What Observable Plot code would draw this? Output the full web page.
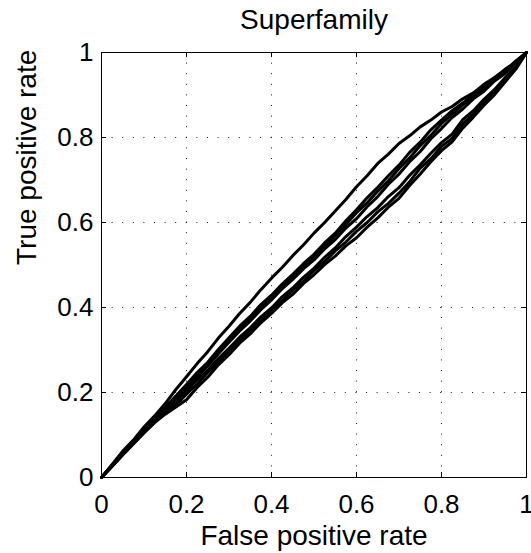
<!DOCTYPE html>
<html><head><meta charset="utf-8">
<script src="https://cdn.jsdelivr.net/npm/d3@7"></script>
<script src="https://cdn.jsdelivr.net/npm/@observablehq/plot@0.6"></script>
<style>body{margin:0;background:#fff}</style>
</head><body><div id="chart"></div>
<script>
const titleText = "Superfamily";
const xLabel = "False positive rate";
const yLabel = "True positive rate";
const ticks = [0, 0.2, 0.4, 0.6, 0.8, 1];
const gridTicks = [0.2, 0.4, 0.6, 0.8];

const fpr = [0, .025, .05, .075, .1, .125, .15, .175, .2, .225, .25, .275, .3, .325, .35, .375, .4, .425, .45, .475, .5, .525, .55, .575, .6, .625, .65, .675, .7, .725, .75, .775, .8, .825, .85, .875, .9, .925, .95, .975, 1];
const tprA = [0, .031, .062, .088, .119, .145, .174, .207, .237, .268, .296, .328, .356, .386, .412, .442, .469, .494, .522, .547, .575, .6, .627, .654, .684, .71, .739, .761, .786, .804, .825, .841, .86, .873, .891, .905, .925, .941, .961, .977, 1];
const tprB = [0, .029, .058, .087, .114, .141, .165, .192, .219, .247, .271, .301, .329, .356, .379, .407, .429, .455, .478, .503, .525, .552, .575, .604, .63, .658, .683, .71, .735, .765, .789, .818, .841, .863, .881, .901, .919, .941, .958, .98, 1];
const tprC = [0, .028, .057, .085, .112, .139, .162, .186, .216, .24, .269, .295, .326, .348, .375, .399, .426, .448, .474, .496, .521, .544, .57, .595, .623, .646, .674, .698, .727, .752, .781, .805, .833, .855, .877, .896, .917, .935, .957, .977, 1];
const tprD = [0, .028, .056, .083, .11, .137, .16, .185, .209, .238, .262, .291, .318, .345, .368, .395, .418, .444, .466, .491, .512, .538, .56, .587, .609, .637, .661, .69, .714, .743, .767, .797, .821, .847, .867, .891, .909, .933, .951, .977, 1];
const tprE = [0, .027, .055, .082, .108, .134, .155, .176, .203, .23, .252, .28, .304, .33, .352, .378, .399, .425, .446, .471, .492, .518, .54, .567, .589, .614, .635, .661, .682, .711, .736, .763, .788, .808, .842, .863, .89, .913, .941, .967, 1];
const tprF = [0, .027, .054, .08, .106, .131, .152, .171, .196, .22, .247, .271, .299, .321, .347, .369, .395, .416, .441, .461, .487, .508, .533, .554, .579, .6, .625, .645, .669, .696, .728, .75, .779, .798, .832, .855, .882, .906, .936, .964, 1];
const tprG = [0, .026, .053, .079, .105, .129, .149, .166, .183, .212, .236, .265, .289, .316, .338, .364, .386, .411, .431, .456, .477, .501, .521, .545, .564, .589, .611, .636, .657, .687, .714, .743, .769, .79, .822, .848, .876, .901, .931, .961, 1];

const curves = [["A", tprA], ["B", tprB], ["C", tprC], ["D", tprD], ["E", tprE], ["F", tprF], ["G", tprG]];
const rows = curves.flatMap(([name, tpr]) => fpr.map((x, i) => ({curve: name, x, y: tpr[i]})));

const font = "'Liberation Sans', Arial, Helvetica, sans-serif";
const chart = Plot.plot({
  width: 531, height: 553,
  marginLeft: 101, marginRight: 5, marginTop: 52, marginBottom: 76,
  style: {fontFamily: font, background: "#fff", color: "#000"},
  x: {domain: [0, 1]},
  y: {domain: [0, 1]},
  marks: [
    Plot.gridX(gridTicks, {stroke: "#000", strokeOpacity: 0.9, strokeDasharray: "1,9.6", strokeWidth: 1}),
    Plot.gridY(gridTicks, {stroke: "#000", strokeOpacity: 0.9, strokeDasharray: "1,9.6", strokeWidth: 1}),
    Plot.ruleX(ticks, {x: d => d, insetTop: 420, stroke: "#000"}),
    Plot.ruleX(ticks, {x: d => d, insetBottom: 420, stroke: "#000"}),
    Plot.ruleY(ticks, {y: d => d, insetRight: 420, stroke: "#000"}),
    Plot.ruleY(ticks, {y: d => d, insetLeft: 420, stroke: "#000"}),
    Plot.axisX(ticks, {anchor: "bottom", tickSize: 0, tickPadding: 17, fontSize: 26, tickFormat: d => String(d), label: null, fill: "#000"}),
    Plot.axisY(ticks, {anchor: "left", tickSize: 0, tickPadding: 8, fontSize: 26, tickFormat: d => String(d), label: null, fill: "#000"}),
    Plot.line(rows, {x: "x", y: "y", z: "curve", stroke: "#000", strokeWidth: 3, strokeLinejoin: "round"}),
    Plot.frame({stroke: "#000", strokeWidth: 1}),
    Plot.text([titleText], {text: d => d, frameAnchor: "top", dy: -24, lineAnchor: "bottom", fontSize: 28, fill: "#000"}),
    Plot.text([xLabel], {text: d => d, frameAnchor: "bottom", dy: 67, lineAnchor: "bottom", fontSize: 28, fill: "#000"}),
    Plot.text([yLabel], {text: d => d, frameAnchor: "left", dx: -66, rotate: -90, lineAnchor: "bottom", fontSize: 28, fill: "#000"})
  ]
});
document.getElementById("chart").appendChild(chart);
</script>
</body></html>
